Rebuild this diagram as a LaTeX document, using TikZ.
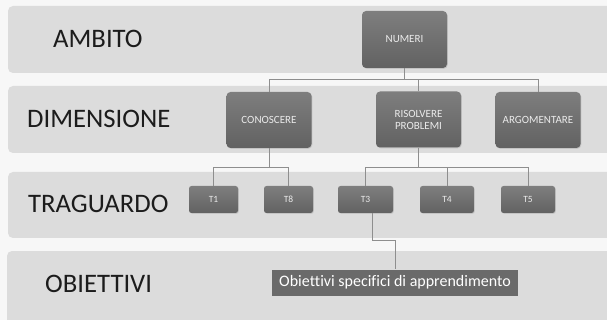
\documentclass[tikz,border=0pt]{standalone}
\usepackage{fontspec}
\setmainfont{Carlito}[Ligatures=NoCommon]
\usetikzlibrary{shadows}
\definecolor{bandc}{HTML}{DCDCDC}
\definecolor{bgc}{HTML}{F7F7F7}
\definecolor{boxtop}{HTML}{7E7E7E}
\definecolor{boxbot}{HTML}{626262}
\definecolor{linec}{HTML}{8E8E8E}
\definecolor{boxtxt}{HTML}{EBEBEB}
\definecolor{labtxt}{HTML}{1C1C1C}
\tikzset{
  band/.style={fill=bandc, draw=none, rounded corners=5pt},
  lab/.style={anchor=base west, inner sep=0pt, text=labtxt, font=\fontsize{26.7}{30}\selectfont},
  gbox/.style={rectangle, rounded corners=4pt, top color=boxtop, bottom color=boxbot, draw=none,
    inner sep=0pt, text=boxtxt, align=center, drop shadow={opacity=0.25, shadow xshift=0.8pt, shadow yshift=-0.8pt}},
  dimbox/.style={gbox, minimum width=85pt, minimum height=56pt, font=\fontsize{11}{12}\selectfont},
  tbox/.style={gbox, rounded corners=2.5pt, minimum height=27pt, font=\fontsize{9.5}{10}\selectfont},
  obbox/.style={rectangle, fill=boxbot!95!white, draw=none, inner sep=0pt, text=white,
    minimum width=246pt, minimum height=26pt, font=\fontsize{16}{18}\selectfont},
  conn/.style={draw=linec, line width=0.9pt}
}
\begin{document}
\begin{tikzpicture}[x=1pt, y=-1pt]
\useasboundingbox (0,0) rectangle (607,320);
\clip (0,0) rectangle (607,320);
\fill[bgc] (0,0) rectangle (607,320);
% bands
\path[band] (8,6) rectangle (620,73);
\path[band] (8,86) rectangle (620,153);
\path[band] (8,172) rectangle (620,238);
\path[band] (7,251) rectangle (620,340);
% labels
\node[lab] (lamb) at (53,47.5) {AMBITO};
\node[lab] (ldim) at (27,128) {DIMENSIONE};
\node[lab] (ltra) at (28,213) {TRAGUARDO};
\node[lab] (lobi) at (45,292) {OBIETTIVI};
% boxes
\node[dimbox, minimum height=57pt] (numeri) at (404.5,39.5) {NUMERI};
\node[dimbox] (conoscere) at (269,120) {CONOSCERE};
\node[dimbox] (risolvere) at (418.5,119.5) {RISOLVERE\\PROBLEMI};
\node[dimbox] (argomentare) at (538,120) {ARGOMENTARE};
\node[tbox, minimum width=49pt] (t1) at (213.5,199.5) {T1};
\node[tbox, minimum width=49pt] (t8) at (288.5,199.5) {T8};
\node[tbox, minimum width=55pt] (t3) at (365.5,199.5) {T3};
\node[tbox, minimum width=54pt] (t4) at (447,199.5) {T4};
\node[tbox, minimum width=54pt] (t5) at (528,199.5) {T5};
\node[obbox] (obiettivi) at (395,282.5) {Obiettivi specifici di apprendimento};
% connectors
\coordinate (bus1) at (0,79.5);
\coordinate (bus2) at (0,167);
\coordinate (k1) at (372.5,240);
\draw[conn] (numeri.south) -- (numeri.south |- bus1) -| (conoscere.north);
\draw[conn] (numeri.south |- bus1) -| (risolvere.north);
\draw[conn] (numeri.south |- bus1) -| (argomentare.north);
\draw[conn] (conoscere.south) -- (conoscere.south |- bus2) -| (t1.north);
\draw[conn] (conoscere.south |- bus2) -| (t8.north);
\draw[conn] (risolvere.south) -- (risolvere.south |- bus2) -| (t3.north);
\draw[conn] (risolvere.south |- bus2) -| (t4.north);
\draw[conn] (risolvere.south |- bus2) -| (t5.north);
\draw[conn] (t3.south -| k1) -- (k1) -| (obiettivi.north);
\end{tikzpicture}
\end{document}
